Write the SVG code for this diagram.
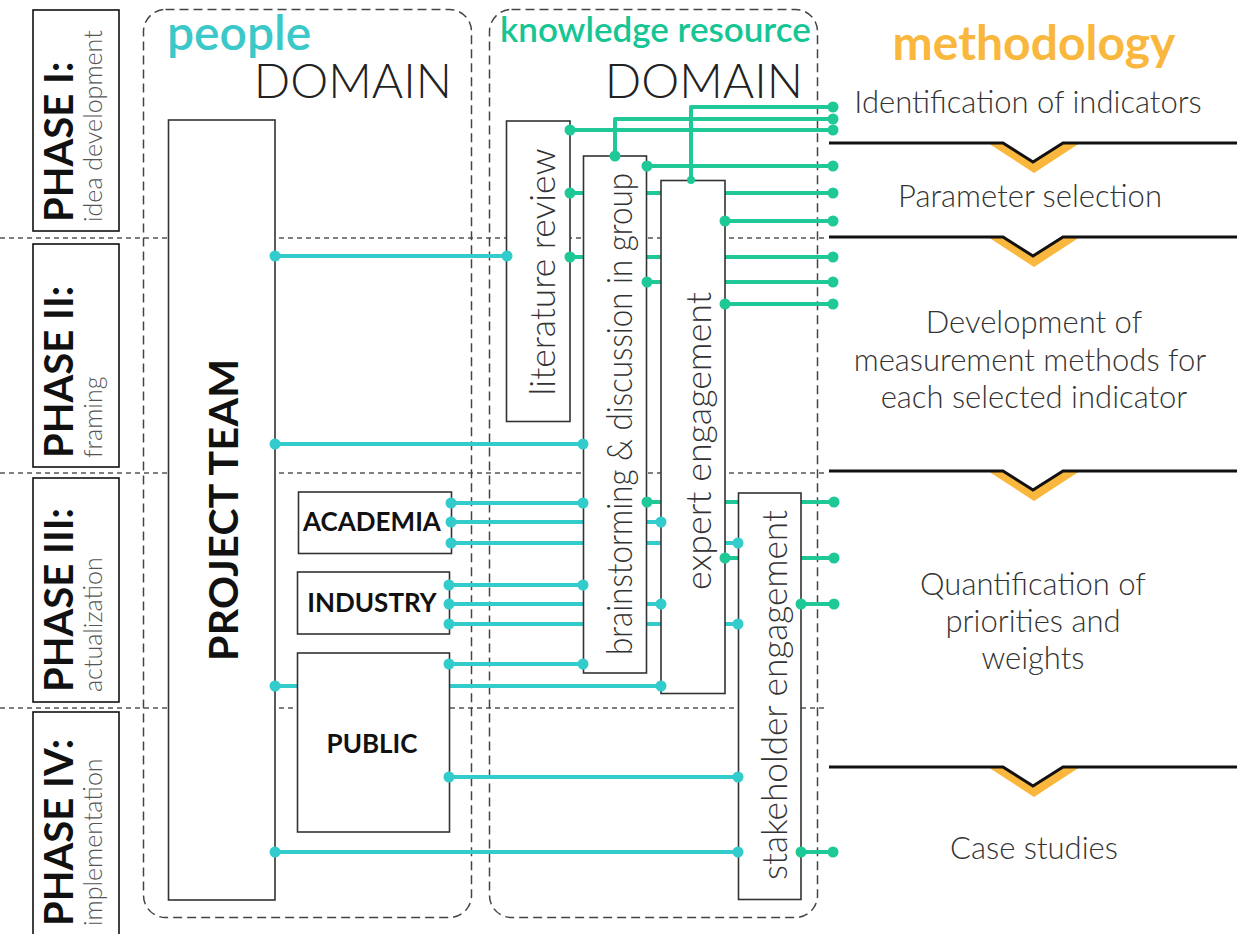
<svg xmlns="http://www.w3.org/2000/svg" width="1244" height="934" viewBox="0 0 1244 934">
  <defs>
    <style>
      text { font-family: "Lato", "Liberation Sans", sans-serif; }
      .phase { font-size: 40px; font-weight: 700; fill: #111; }
      .sub { font-size: 25px; font-weight: 300; fill: #555; }
      .box { fill: #fff; stroke: #333; stroke-width: 1.6; }
      .pbox { fill: #fff; stroke: #111; stroke-width: 1.6; }
      .domain { fill: none; stroke: #444; stroke-width: 1.5; stroke-dasharray: 9 5; }
      .sep { stroke: #555; stroke-width: 1.3; stroke-dasharray: 5 4; }
      .lbl { font-size: 35px; font-weight: 300; fill: #333; text-anchor: middle; }
      .grp { font-size: 26px; font-weight: 700; fill: #111; text-anchor: middle; }
      .meth { font-size: 31px; font-weight: 300; fill: #333; text-anchor: middle; }
      .dom { font-size: 48px; font-weight: 300; fill: #222; text-anchor: end; }
      .g { fill: none; stroke: #1ec997; stroke-width: 4; stroke-linejoin: round; }
      .c { fill: none; stroke: #33cccc; stroke-width: 4; }
      .gd { fill: #1ec997; }
      .cd { fill: #33cccc; }
    </style>
    <g id="step">
      <polygon points="988,0 1034,30 1080,0 1063,0 1033,19 1003,0" fill="#f9b73e"/>
      <polyline points="829,0 1003,0 1033,19 1063,0 1237,0" fill="none" stroke="#111" stroke-width="3"/>
    </g>
  </defs>

  <rect width="1244" height="934" fill="#fff"/>

  <!-- phase separators -->
  <g id="separators">
    <line class="sep" x1="0" y1="238" x2="824" y2="238"/>
    <line class="sep" x1="0" y1="473" x2="824" y2="473"/>
    <line class="sep" x1="0" y1="708" x2="824" y2="708"/>
  </g>

  <!-- phase labels -->
  <g id="phase-1">
    <rect class="pbox" x="33" y="10" width="86" height="221"/>
    <text class="phase" transform="translate(73,222) rotate(-90)">PHASE I:</text>
    <text class="sub" transform="translate(102,222) rotate(-90)">idea development</text>
  </g>
  <g id="phase-2">
    <rect class="pbox" x="33" y="244" width="86" height="223"/>
    <text class="phase" transform="translate(73,458) rotate(-90)">PHASE II:</text>
    <text class="sub" transform="translate(102,458) rotate(-90)">framing</text>
  </g>
  <g id="phase-3">
    <rect class="pbox" x="33" y="478" width="86" height="224"/>
    <text class="phase" transform="translate(73,692) rotate(-90)">PHASE III:</text>
    <text class="sub" transform="translate(102,692) rotate(-90)">actualization</text>
  </g>
  <g id="phase-4">
    <rect class="pbox" x="33" y="712" width="86" height="240"/>
    <text class="phase" transform="translate(73,926) rotate(-90)">PHASE IV:</text>
    <text class="sub" transform="translate(102,926) rotate(-90)">implementation</text>
  </g>

  <!-- domain frames -->
  <g id="people-domain">
    <rect class="domain" x="143.5" y="9.5" width="328" height="908" rx="22"/>
    <text x="167" y="50" font-size="48" font-weight="600" fill="#3ac8c8">people</text>
    <text class="dom" x="452" y="98">DOMAIN</text>
  </g>
  <g id="knowledge-domain">
    <rect class="domain" x="489.5" y="9.5" width="328" height="908" rx="22"/>
    <text x="500" y="42" font-size="35" font-weight="600" fill="#16c594">knowledge resource</text>
    <text class="dom" x="803" y="98">DOMAIN</text>
  </g>

  <!-- methodology column -->
  <g id="methodology">
    <text x="1034" y="60" font-size="48" font-weight="700" fill="#f9b73e" text-anchor="middle">methodology</text>
    <text class="meth" x="1028" y="113">Identification of indicators</text>
    <use href="#step" transform="translate(0,143)"/>
    <text class="meth" x="1030" y="207">Parameter selection</text>
    <use href="#step" transform="translate(0,237)"/>
    <text class="meth" x="1034" y="333">Development of</text>
    <text class="meth" x="1030" y="371">measurement methods for</text>
    <text class="meth" x="1034" y="408">each selected indicator</text>
    <use href="#step" transform="translate(0,471)"/>
    <text class="meth" x="1033" y="595">Quantification of</text>
    <text class="meth" x="1033" y="632">priorities and</text>
    <text class="meth" x="1033" y="669">weights</text>
    <use href="#step" transform="translate(0,767)"/>
    <text class="meth" x="1034" y="859">Case studies</text>
  </g>

  <!-- connectors -->
  <g id="connectors">
    <path class="g" d="M833,107 H691 V180"/>
    <path class="g" d="M833,119 H615 V156"/>
    <path class="g" d="M570,130 H833"/>
    <path class="g" d="M647,166 H833"/>
    <path class="g" d="M570,193 H833"/>
    <path class="g" d="M725,221 H833"/>
    <path class="g" d="M570,257 H833"/>
    <path class="g" d="M647,282 H833"/>
    <path class="g" d="M725,304 H833"/>
    <path class="g" d="M647,502 H834"/>
    <path class="g" d="M725,558 H834"/>
    <path class="g" d="M801,604 H834"/>
    <path class="g" d="M801,852 H833"/>

    <path class="c" d="M275,256 H507"/>
    <path class="c" d="M275,444 H583"/>
    <path class="c" d="M451,503 H583"/>
    <path class="c" d="M451,522 H661"/>
    <path class="c" d="M451,543 H738"/>
    <path class="c" d="M449,585 H583"/>
    <path class="c" d="M449,604 H661"/>
    <path class="c" d="M449,624 H738"/>
    <path class="c" d="M449,664 H583"/>
    <path class="c" d="M275,686 H661"/>
    <path class="c" d="M449,777 H738"/>
    <path class="c" d="M275,852 H738"/>
  </g>

  <!-- people nodes -->
  <g id="project-team">
    <rect class="box" x="168.5" y="120" width="106.5" height="780"/>
    <text transform="translate(238,510) rotate(-90)" font-size="41" font-weight="700" fill="#111" text-anchor="middle" textLength="302" lengthAdjust="spacing">PROJECT TEAM</text>
  </g>
  <g id="academia">
    <rect class="box" x="298.5" y="492" width="153" height="61.5"/>
    <text class="grp" x="372" y="531">ACADEMIA</text>
  </g>
  <g id="industry">
    <rect class="box" x="297.5" y="572" width="152" height="62"/>
    <text class="grp" x="372" y="612">INDUSTRY</text>
  </g>
  <g id="public">
    <rect class="box" x="297.5" y="653" width="152" height="179"/>
    <text class="grp" x="372" y="753">PUBLIC</text>
  </g>

  <!-- knowledge resource nodes -->
  <g id="literature-review">
    <rect class="box" x="506.5" y="121" width="63.5" height="300.5"/>
    <text class="lbl" transform="translate(555,272) rotate(-90)" textLength="247" lengthAdjust="spacingAndGlyphs">literature review</text>
  </g>
  <g id="brainstorming">
    <rect class="box" x="583.5" y="156" width="63" height="517"/>
    <text class="lbl" transform="translate(632,414) rotate(-90)" textLength="482" lengthAdjust="spacingAndGlyphs">brainstorming &amp; discussion in group</text>
  </g>
  <g id="expert-engagement">
    <rect class="box" x="661" y="180.5" width="64" height="513"/>
    <text class="lbl" transform="translate(711,441) rotate(-90)" textLength="298" lengthAdjust="spacingAndGlyphs">expert engagement</text>
  </g>
  <g id="stakeholder-engagement">
    <rect class="box" x="738.5" y="493" width="62.5" height="406.5"/>
    <text class="lbl" transform="translate(787,695) rotate(-90)" textLength="370" lengthAdjust="spacingAndGlyphs">stakeholder engagement</text>
  </g>

  <!-- connector end dots -->
  <g id="connector-ends">
    <g class="gd">
      <circle cx="833" cy="107" r="5.5"/>
      <circle cx="833" cy="119" r="5.5"/>
      <circle cx="833" cy="130" r="5.5"/>
      <circle cx="570" cy="130" r="5.5"/>
      <circle cx="615" cy="156" r="5.5"/>
      <circle cx="691" cy="180" r="4"/>
      <circle cx="647" cy="166" r="5.5"/>
      <circle cx="833" cy="166" r="5.5"/>
      <circle cx="570" cy="193" r="5.5"/>
      <circle cx="833" cy="193" r="5.5"/>
      <circle cx="725" cy="221" r="5.5"/>
      <circle cx="833" cy="221" r="5.5"/>
      <circle cx="570" cy="257" r="5.5"/>
      <circle cx="833" cy="257" r="5.5"/>
      <circle cx="647" cy="282" r="5.5"/>
      <circle cx="833" cy="282" r="5.5"/>
      <circle cx="725" cy="304" r="5.5"/>
      <circle cx="833" cy="304" r="5.5"/>
      <circle cx="647" cy="502" r="5.5"/>
      <circle cx="834" cy="502" r="5.5"/>
      <circle cx="725" cy="558" r="5.5"/>
      <circle cx="834" cy="558" r="5.5"/>
      <circle cx="801" cy="604" r="5.5"/>
      <circle cx="834" cy="604" r="5.5"/>
      <circle cx="801" cy="852" r="5.5"/>
      <circle cx="833" cy="852" r="5.5"/>
    </g>
    <g class="cd">
      <circle cx="275" cy="256" r="5.5"/>
      <circle cx="507" cy="256" r="5.5"/>
      <circle cx="275" cy="444" r="5.5"/>
      <circle cx="583" cy="444" r="5.5"/>
      <circle cx="451" cy="503" r="5.5"/>
      <circle cx="583" cy="503" r="5.5"/>
      <circle cx="451" cy="522" r="5.5"/>
      <circle cx="661" cy="522" r="5.5"/>
      <circle cx="451" cy="543" r="5.5"/>
      <circle cx="738" cy="543" r="5.5"/>
      <circle cx="449" cy="585" r="5.5"/>
      <circle cx="583" cy="585" r="5.5"/>
      <circle cx="449" cy="604" r="5.5"/>
      <circle cx="661" cy="604" r="5.5"/>
      <circle cx="449" cy="624" r="5.5"/>
      <circle cx="738" cy="624" r="5.5"/>
      <circle cx="449" cy="664" r="5.5"/>
      <circle cx="583" cy="664" r="5.5"/>
      <circle cx="275" cy="686" r="5.5"/>
      <circle cx="661" cy="686" r="5.5"/>
      <circle cx="449" cy="777" r="5.5"/>
      <circle cx="738" cy="777" r="5.5"/>
      <circle cx="275" cy="852" r="5.5"/>
      <circle cx="738" cy="852" r="5.5"/>
    </g>
  </g>
</svg>
